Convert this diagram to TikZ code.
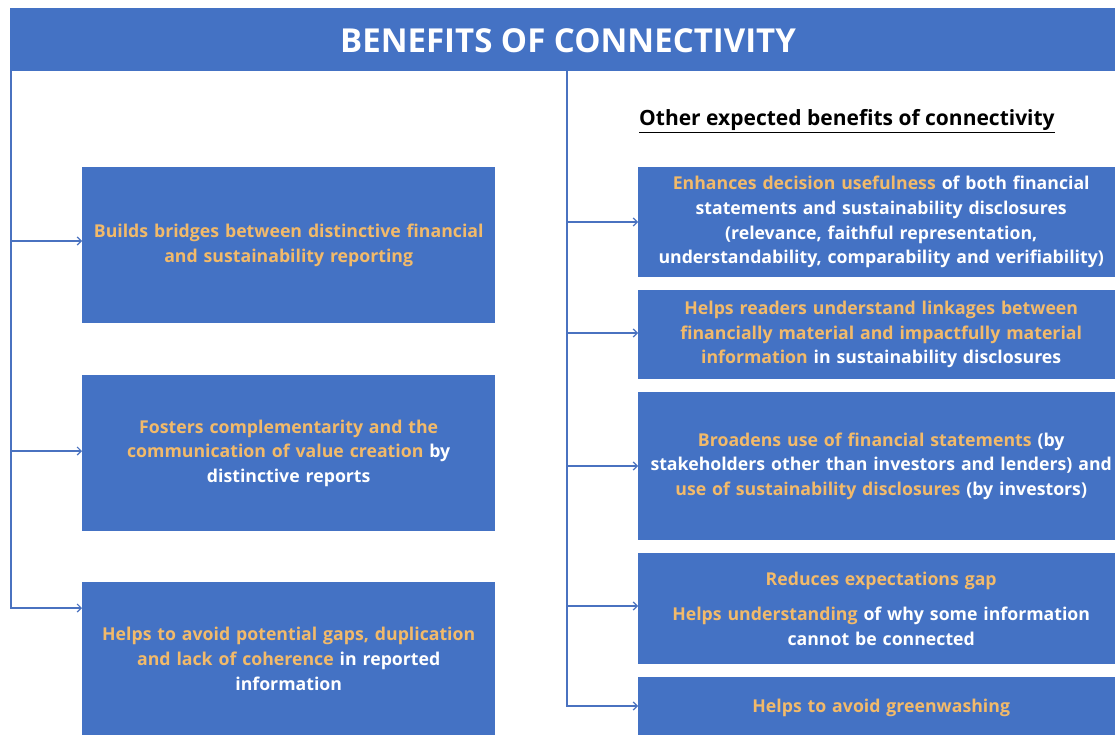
\documentclass[tikz,border=0pt]{standalone}
\usepackage{fontspec}
\setmainfont{Open Sans}
\usetikzlibrary{arrows.meta}
\definecolor{boxblue}{HTML}{4472C4}
\definecolor{lineblue}{HTML}{4A72C0}
\definecolor{hlorange}{HTML}{F2BA6A}
\newcommand\hlt[1]{\textcolor{hlorange}{#1}}
\tikzset{
  benefit/.style={fill=boxblue, draw=none, anchor=north west, inner sep=0pt,
    text=white, font=\bfseries\fontsize{17.7}{24.7}\selectfont, align=center},
  conn/.style={draw=lineblue, line width=1.4pt, line join=miter,
    -{Straight Barb[length=4pt,width=8pt,line width=1.2pt]}},
  headbar/.style={fill=boxblue, draw=none, anchor=north west, inner sep=0pt},
}
\begin{document}
\begin{tikzpicture}[x=1pt,y=-1pt]
\useasboundingbox (0,0) rectangle (1115,735);
\clip (0,0) rectangle (1115,735);
\fill[white] (0,0) rectangle (1115,735);

% header
\node[headbar, minimum width=1116pt, minimum height=63pt] (head) at (10,8) {};
\node[anchor=base, inner sep=0pt, text=white, font=\bfseries\fontsize{33}{38}\selectfont] (title) at (568,53) {BENEFITS OF CONNECTIVITY};

% sub heading
\node[anchor=base west, inner sep=0pt, font=\bfseries\fontsize{21}{25}\selectfont] (sub) at (639,126)
  {\underline{Other expected benefits of connectivity}};

% left boxes
\node[benefit, text width=413pt, minimum height=156pt] (L1) at (82,167)
  {\hlt{Builds bridges between distinctive financial}\\ \hlt{and sustainability reporting}};
\node[benefit, text width=413pt, minimum height=156pt] (L2) at (82,375)
  {\hlt{Fosters complementarity and the}\\ \hlt{communication of value creation} by\\ distinctive reports};
\node[benefit, text width=413pt, minimum height=153pt] (L3) at (82,582)
  {\hlt{Helps to avoid potential gaps, duplication}\\ \hlt{and lack of coherence} in reported\\ information};

% right boxes
\node[benefit, text width=486pt, minimum height=110pt] (R1) at (638,167)
  {\hlt{Enhances decision usefulness} of both financial\\ statements and sustainability disclosures\\ (relevance, faithful representation,\\ understandability, comparability and verifiability)};
\node[benefit, text width=486pt, minimum height=89pt] (R2) at (638,290)
  {\hlt{Helps readers understand linkages between}\\ \hlt{financially material and impactfully material}\\ \hlt{information} in sustainability disclosures};
\node[benefit, text width=486pt, minimum height=148pt] (R3) at (638,392)
  {\hlt{Broadens use of financial statements} (by\\ stakeholders other than investors and lenders) and\\ \hlt{use of sustainability disclosures} (by investors)};
\node[benefit, text width=486pt, minimum height=111pt] (R4) at (638,553)
  {\hlt{Reduces expectations gap}\\[10pt] \hlt{Helps understanding} of why some information\\ cannot be connected};
\node[benefit, text width=486pt, minimum height=62pt] (R5) at (638,677)
  {\hlt{Helps to avoid greenwashing}};

% left spine
\coordinate (ltop) at (11,71);
\coordinate (la1) at (11,241);
\coordinate (la2) at (11,451);
\coordinate (la3) at (11,608);
\draw[conn] (ltop) -- (la3) -- (la3 -| L3.west);
\draw[conn] (la1) -- (la1 -| L1.west);
\draw[conn] (la2) -- (la2 -| L2.west);

% centre spine
\coordinate (ctop) at (567,71);
\coordinate (ca1) at (567,222);
\coordinate (ca2) at (567,333);
\coordinate (ca3) at (567,466);
\coordinate (ca4) at (567,606);
\coordinate (ca5) at (567,706);
\draw[conn] (ctop) -- (ca5) -- (ca5 -| R5.west);
\draw[conn] (ca1) -- (ca1 -| R1.west);
\draw[conn] (ca2) -- (ca2 -| R2.west);
\draw[conn] (ca3) -- (ca3 -| R3.west);
\draw[conn] (ca4) -- (ca4 -| R4.west);
\end{tikzpicture}
\end{document}
